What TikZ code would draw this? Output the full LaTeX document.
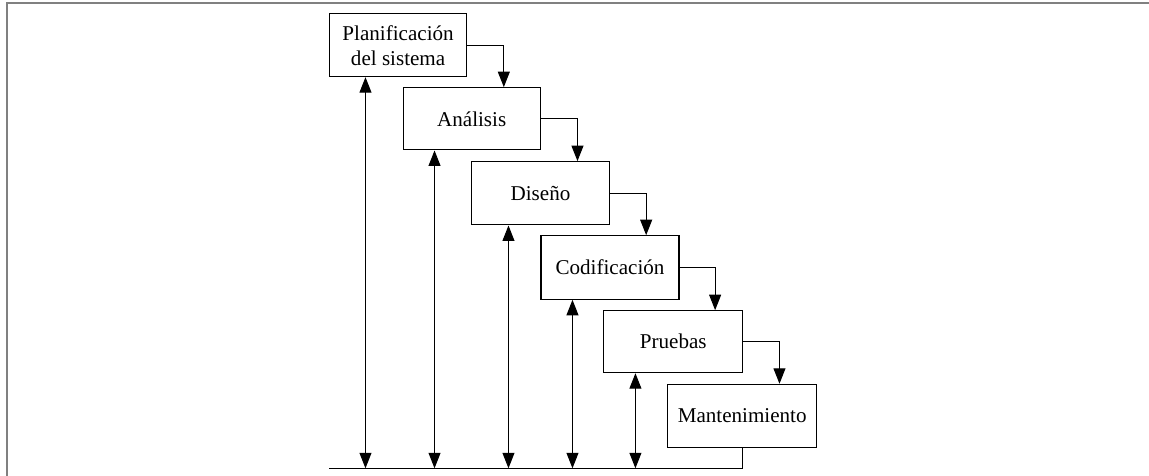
\documentclass[tikz,border=0pt]{standalone}
\usepackage{fontspec}
\setmainfont{Liberation Serif}
\usetikzlibrary{arrows.meta}
\newdimen\pxl \pxl=0.02cm
\tikzset{
  tip/.tip={Triangle[length=8.8pt,width=6.8pt]},
  stage/.style={draw=black, line width=0.6pt, minimum height=63\pxl, inner sep=0pt,
    align=center, font=\fontsize{12}{14.2}\selectfont},
  flow/.style={draw=black, line width=0.6pt, -tip},
  link/.style={draw=black, line width=0.6pt, tip-tip},
  baseline/.style={draw=black, line width=0.6pt},
  frame/.style={draw=gray, line width=0.9pt}
}
\begin{document}
\begin{tikzpicture}[x=0.02cm, y=-0.02cm]
\useasboundingbox (0,0) rectangle (1149,476);
\draw[frame] (7,480) -- (7,3) -- (1152,3);

\node[stage, minimum width=137.2\pxl, minimum height=62.7\pxl] (b1) at (398.1,45.3) {Planificación\\del sistema};
\node[stage, minimum width=136.7\pxl, minimum height=62.3\pxl] (b2) at (471.7,118.8) {Análisis};
\node[stage, minimum width=137.6\pxl, minimum height=63.3\pxl] (b3) at (540.5,193.3) {Diseño};
\node[stage, minimum width=138\pxl, minimum height=63.6\pxl] (b4) at (610,267.5) {Codificación};
\node[stage, minimum width=138.7\pxl, minimum height=62\pxl] (b5) at (673.3,341.7) {Pruebas};
\node[stage, minimum width=149\pxl, minimum height=63.4\pxl] (b6) at (742.2,416) {Mantenimiento};

\coordinate (base) at (329.3,468.3);

% flow arrows
\draw[flow] (b1.east) -| ([xshift=101\pxl]b2.north west);
\draw[flow] (b2.east) -| ([xshift=106.3\pxl]b3.north west);
\draw[flow] (b3.east) -| ([xshift=105.7\pxl]b4.north west);
\draw[flow] (b4.east) -| ([xshift=111.7\pxl]b5.north west);
\draw[flow] (b5.east) -| ([xshift=112.3\pxl]b6.north west);

% bottom line
\draw[baseline] (b6.south) |- (base);

% feedback double arrows
\draw[link] ([xshift=36.5\pxl]b1.south west) -- ([xshift=36.5\pxl]b1.south west |- base);
\draw[link] ([xshift=31.7\pxl]b2.south west) -- ([xshift=31.7\pxl]b2.south west |- base);
\draw[link] ([xshift=37.3\pxl]b3.south west) -- ([xshift=37.3\pxl]b3.south west |- base);
\draw[link] ([xshift=32\pxl]b4.south west) -- ([xshift=32\pxl]b4.south west |- base);
\draw[link] ([xshift=32\pxl]b5.south west) -- ([xshift=32\pxl]b5.south west |- base);
\end{tikzpicture}
\end{document}
